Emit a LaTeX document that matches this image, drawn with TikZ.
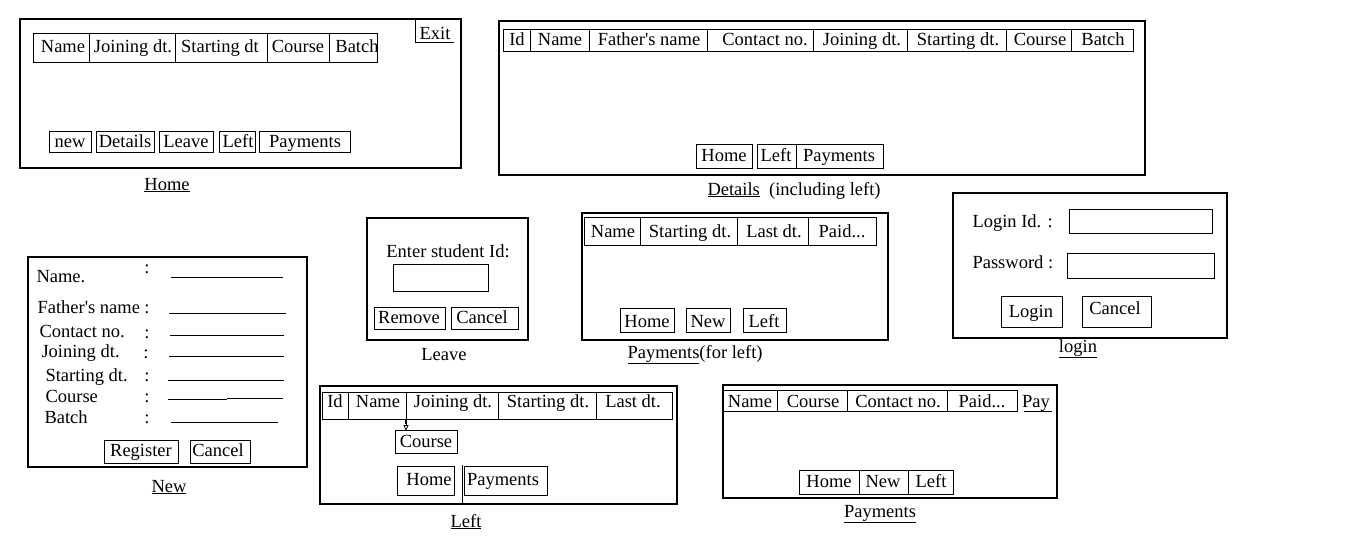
\documentclass[tikz,border=0pt]{standalone}
\usepackage{fontspec}
\setmainfont{Liberation Serif}
\usetikzlibrary{arrows.meta}
\newcommand\fs{\fontsize{18.5}{20}\selectfont}
\tikzset{
  txt/.style={inner sep=0pt, anchor=base, font=\fs},
  txtw/.style={inner sep=0pt, anchor=base west, font=\fs},
  frame/.style={draw, line width=1.1pt},
}
\begin{document}
\begin{tikzpicture}[x=1pt, y=-1pt, line width=1pt]
\useasboundingbox (0,0) rectangle (1360,541);
\fill[white] (0,0) rectangle (1360,541);

% ---------------- Home ----------------
\draw[frame] (20,19) rectangle (461,168);
\draw (415,19) -- (415,42) -- (454,42);
\node[txt] (exitT) at (435,39) {Exit};
\draw (33,33) rectangle (377,62);
\foreach \x in {89,175,267,329} \draw (\x,33) -- (\x,62);
\node[txt] (hName) at (63,52) {Name};
\node[txt] (hJoin) at (133,52) {Joining dt.};
\node[txt] (hStart) at (220,52) {Starting dt};
\node[txt] (hCourse) at (298,52) {Course};
\node[txt] (hBatch) at (357,52) {Batch};
\draw (49,131) rectangle (91,152);
\draw (96,131) rectangle (154,152);
\draw (159,131) rectangle (213,152);
\draw (219,131) rectangle (255,152);
\draw (259,131) rectangle (350,152);
\node[txt] (hbNew) at (70,147) {new};
\node[txt] (hbDet) at (125,147) {Details};
\node[txt] (hbLeave) at (186,147) {Leave};
\node[txt] (hbLeft) at (238,147) {Left};
\node[txt] (hbPay) at (305,147) {Payments};
\node[txt] (homeLbl) at (167,190) {\underline{Home}};

% ---------------- Details ----------------
\draw[frame] (499,21) rectangle (1145,175);
\draw (503,29) rectangle (1133,51);
\foreach \x in {530,589,707,813,907,1006,1071} \draw (\x,29) -- (\x,51);
\node[txt] (dId) at (517,45) {Id};
\node[txt] (dName) at (560,45) {Name};
\node[txt] (dFather) at (649,45) {Father\textquotesingle s name};
\node[txt] (dContact) at (765,45) {Contact no.};
\node[txt] (dJoin) at (862,45) {Joining dt.};
\node[txt] (dStart) at (958,45) {Starting dt.};
\node[txt] (dCourse) at (1040,45) {Course};
\node[txt] (dBatch) at (1103,45) {Batch};
\draw (696,144) rectangle (752,168);
\draw (757,144) rectangle (796,168);
\draw (796,144) rectangle (883,168);
\node[txt] (dbHome) at (724,161) {Home};
\node[txt] (dbLeft) at (776,161) {Left};
\node[txt] (dbPay) at (839,161) {Payments};
\node[txtw] (detLbl) at (707,195) {\underline{Details}\ \ (including left)};

% ---------------- New ----------------
\draw[frame] (28,257) rectangle (307,467);
\node[txtw] (nName) at (36,282) {Name.};
\node[txtw] (nFather) at (37,313) {Father\textquotesingle s name};
\node[txtw] (nContact) at (39,337) {Contact no.};
\node[txtw] (nJoin) at (41,357) {Joining dt.};
\node[txtw] (nStart) at (45,381) {Starting dt.};
\node[txtw] (nCourse) at (45,402) {Course};
\node[txtw] (nBatch) at (44,423) {Batch};
\node[txt] (c1) at (147,273) {:};
\node[txt] (c2) at (147,313) {:};
\node[txt] (c3) at (147,338) {:};
\node[txt] (c4) at (146,358) {:};
\node[txt] (c5) at (147,381) {:};
\node[txt] (c6) at (147,402) {:};
\node[txt] (c7) at (147,423) {:};
\draw (171,277) -- (283,277);
\draw (169,313) -- (286,313);
\draw (170,335) -- (284,335);
\draw (169,356) -- (284,356);
\draw (168,380) -- (284,380);
\draw (168,399) -- (227,399);
\draw (227,398) -- (283,398);
\draw (171,422) -- (278,422);
\draw (104,440) rectangle (178,463);
\draw (190,440) rectangle (250,463);
\node[txt] (nbReg) at (141,456) {Register};
\node[txt] (nbCan) at (218,456) {Cancel};
\node[txt] (newLbl) at (169,492) {\underline{New}};

% ---------------- Leave ----------------
\draw[frame] (367,218) rectangle (528,340);
\node[txt] (lvEnter) at (448,257) {Enter student Id:};
\draw (393,264) rectangle (488,291);
\draw (374,307) rectangle (445,329);
\draw (451,307) rectangle (518,329);
\node[txt] (lvRem) at (409,323) {Remove};
\node[txt] (lvCan) at (482,323) {Cancel};
\node[txt] (leaveLbl) at (444,360) {Leave};

% ---------------- Payments (for left) ----------------
\draw[frame] (582,213) rectangle (888,340);
\draw (584,217) rectangle (876,245);
\foreach \x in {640,737,808} \draw (\x,217) -- (\x,245);
\node[txt] (pfName) at (613,237) {Name};
\node[txt] (pfStart) at (690,237) {Starting dt.};
\node[txt] (pfLast) at (774,237) {Last dt.};
\node[txt] (pfPaid) at (842,237) {Paid...};
\draw (620,308) rectangle (674,332);
\draw (686,308) rectangle (730,332);
\draw (743,308) rectangle (786,332);
\node[txt] (pfbHome) at (647,327) {Home};
\node[txt] (pfbNew) at (708,327) {New};
\node[txt] (pfbLeft) at (764,327) {Left};
\node[txtw] (pflLbl) at (627,358) {\underline{Payments}(for left)};

% ---------------- login ----------------
\draw[frame] (953,193) rectangle (1227,338);
\node[txtw] (lgId) at (972,227) {Login Id. :};
\draw (1069,209) rectangle (1212,233);
\node[txtw] (lgPw) at (972,268) {Password :};
\draw (1067,253) rectangle (1214,278);
\draw (1001,296) rectangle (1062,327);
\draw (1082,296) rectangle (1151,327);
\node[txt] (lgLogin) at (1031,317) {Login};
\node[txt] (lgCan) at (1115,314) {Cancel};
\node[txt] (loginLbl) at (1078,352) {\underline{login}};

% ---------------- Left ----------------
\draw[frame] (320,386) rectangle (677,504);
\draw (322,392) rectangle (672,419);
\foreach \x in {348,406,498,596} \draw (\x,392) -- (\x,419);
\node[txt] (lId) at (335,407) {Id};
\node[txt] (lName) at (378,407) {Name};
\node[txt] (lJoin) at (453,407) {Joining dt.};
\node[txt] (lStart) at (548,407) {Starting dt.};
\node[txt] (lLast) at (633,407) {Last dt.};
\coordinate (arA) at (406,419);
\coordinate (arB) at (406,424);
\coordinate (arC) at (406,431);
\draw[line width=2.5pt] (arA) -- (arB);
\draw[line width=0.8pt, -{Triangle[open,length=6pt,width=5pt]}] (arB) -- (arC);
\draw (395,430) rectangle (457,453);
\node[txt] (lCourse) at (426,447) {Course};
\draw (397,466) rectangle (454,495);
\draw (462,465) -- (462,505);
\draw (464,466) rectangle (547,495);
\node[txt] (lbHome) at (429,485) {Home};
\node[txt] (lbPay) at (503,485) {Payments};
\node[txt] (leftLbl) at (466,527) {\underline{Left}};

% ---------------- Payments ----------------
\draw[frame] (723,385) rectangle (1057,498);
\draw (723,390) rectangle (1017,411);
\foreach \x in {777,847,947} \draw (\x,390) -- (\x,411);
\node[txt] (pName) at (750,407) {Name};
\node[txt] (pCourse) at (813,407) {Course};
\node[txt] (pContact) at (898,407) {Contact no.};
\node[txt] (pPaid) at (982,407) {Paid...};
\node[txt] (pPay) at (1036,407) {Pay};
\draw (1024,411) -- (1052,411);
\draw (799,470) rectangle (953,494);
\draw (859,470) -- (859,494);
\draw (908,470) -- (908,494);
\node[txt] (pbHome) at (829,487) {Home};
\node[txt] (pbNew) at (883,487) {New};
\node[txt] (pbLeft) at (931,487) {Left};
\node[txt] (payLbl) at (880,517) {\underline{Payments}};
\end{tikzpicture}
\end{document}
